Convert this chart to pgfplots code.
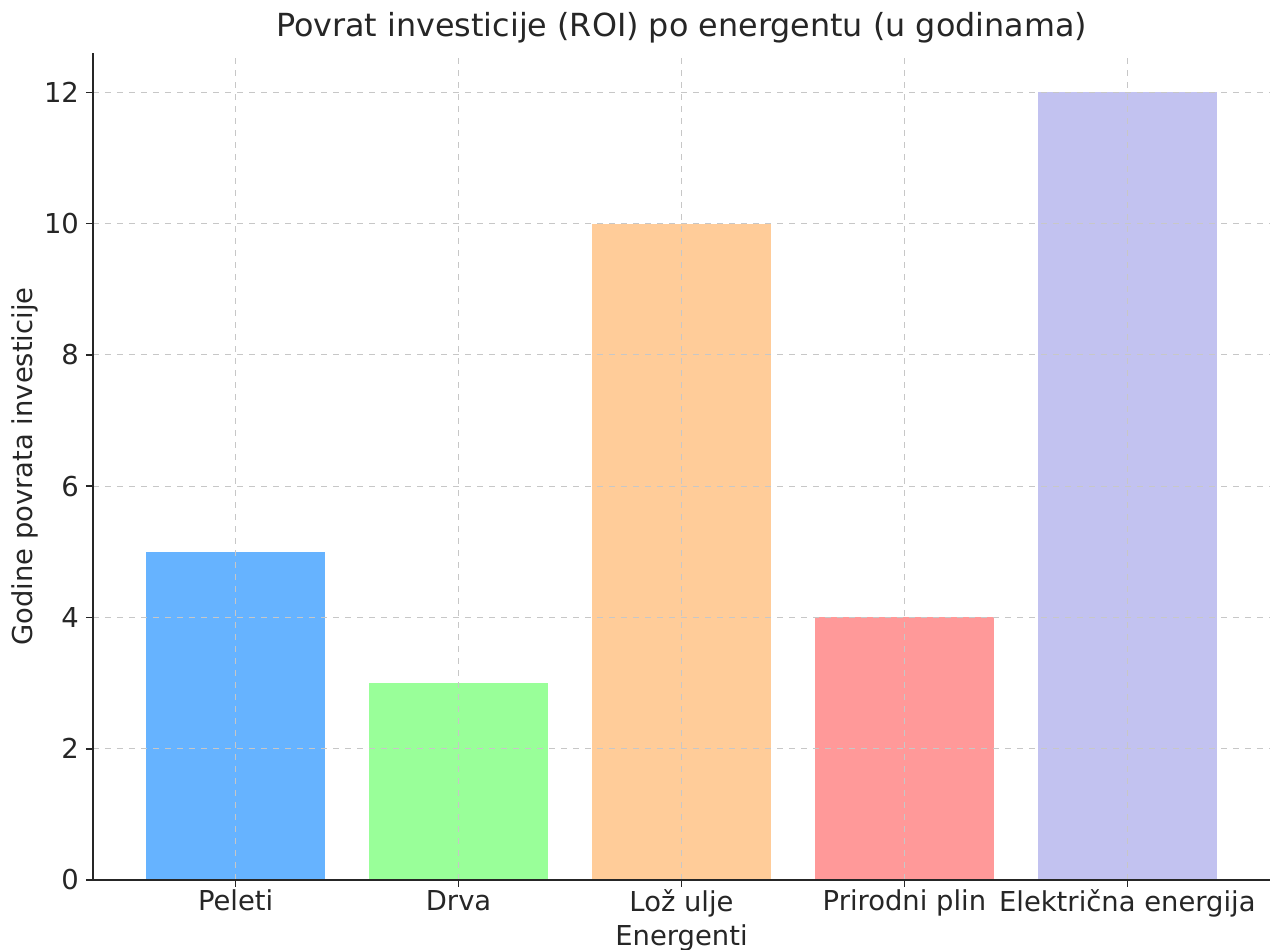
\documentclass[border=0pt]{standalone}
\usepackage{pgfplots}
\pgfplotsset{compat=1.18}
\usepackage{fontspec}
\setmainfont{DejaVu Sans}
\definecolor{c1}{HTML}{66B3FF}
\definecolor{c2}{HTML}{99FF99}
\definecolor{c3}{HTML}{FFCC99}
\definecolor{c4}{HTML}{FF9999}
\definecolor{c5}{HTML}{C2C2F0}
\definecolor{txt}{HTML}{262626}
\begin{document}
\begin{tikzpicture}
\begin{axis}[
  set layers, axis on top,
  width=588.5pt, height=413.5pt, scale only axis,
  xmin=-0.64, xmax=4.64, ymin=0, ymax=12.6,
  ybar, bar width=0.8, bar shift=0pt,
  xtick={0,1,2,3,4},
  xticklabels={Peleti,Drva,Lož ulje,Prirodni plin,Električna energija},
  ytick={0,2,4,6,8,10,12},
  axis x line*=bottom, axis y line*=left,
  axis line style={-, black!85, line width=0.8pt},
  tick align=outside, major tick length=3.5pt,
  tick style={black!85, line width=0.8pt},
  grid=major, grid style={dashed, black!22, line width=0.5pt},
  /pgf/number format/assume math mode=true,
  ticklabel style={font=\fontsize{13.7}{15}\selectfont, text=txt},
  xticklabel style={yshift=2pt},
  label style={font=\fontsize{13.7}{15}\selectfont, text=txt},
  xlabel={Energenti}, ylabel={Godine povrata investicije},
  title={Povrat investicije (ROI) po energentu (u godinama)},
  title style={font=\fontsize{15.9}{18}\selectfont, text=txt, at={(axis description cs:0.5,1)}, anchor=center, yshift=6.5pt},
  xlabel style={at={(axis description cs:0.5,-0.0701)}, anchor=center},
  ylabel style={at={(axis description cs:-0.0578,0.5)}, anchor=center},
]
\addplot[fill=c1, draw=none] coordinates {(0,5)};
\addplot[fill=c2, draw=none] coordinates {(1,3)};
\addplot[fill=c3, draw=none] coordinates {(2,10)};
\addplot[fill=c4, draw=none] coordinates {(3,4)};
\addplot[fill=c5, draw=none] coordinates {(4,12)};
\end{axis}
\pgfresetboundingbox
\path[use as bounding box] ([shift={(-46.5pt,-35pt)}]current axis.south west) rectangle ([shift={(2.5pt,26.5pt)}]current axis.north east);
\end{tikzpicture}
\end{document}
